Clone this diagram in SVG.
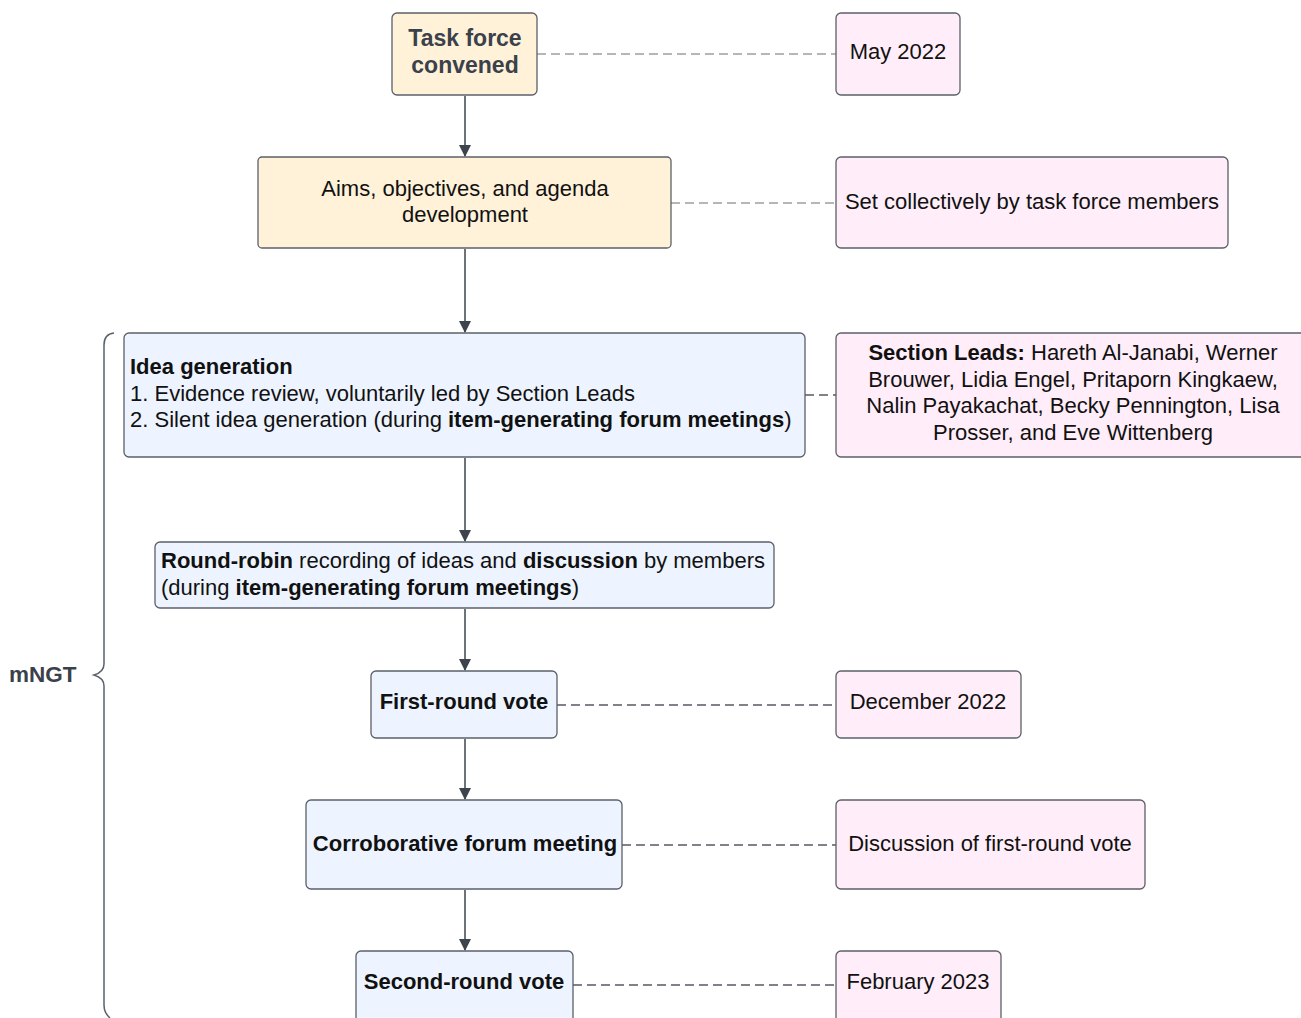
<svg xmlns="http://www.w3.org/2000/svg" width="1301" height="1018" viewBox="0 0 1301 1018">
<style>
text{font-family:"Liberation Sans",Arial,sans-serif;font-size:22px;fill:#111}
.b{font-weight:bold}
.dk{fill:#3a414a}
.c{text-anchor:middle}
.box{stroke:#5b6069;stroke-width:1.3}
.y{fill:#fff2d9}
.p{fill:#ffeef9}
.bl{fill:#edf4ff}
.flow{stroke:#3e444c;stroke-width:1.5;fill:none}
.dash{stroke:#555a62;stroke-width:1.3;stroke-dasharray:9 5;fill:none}
.dash2{stroke:#9a9ea4;stroke-width:1.3;stroke-dasharray:9 5;fill:none}
</style>
<defs>
<marker id="ah" markerWidth="12" markerHeight="14" refX="11" refY="6" orient="auto" markerUnits="userSpaceOnUse">
<path d="M0,0 L12,6 L0,12 z" fill="#3e444c"/>
</marker>
</defs>
<rect width="1301" height="1018" fill="#fff"/>
<g id="connectors">
<path class="flow" d="M465,96 V156" marker-end="url(#ah)"/>
<path class="flow" d="M465,249 V332" marker-end="url(#ah)"/>
<path class="flow" d="M465,458 V541" marker-end="url(#ah)"/>
<path class="flow" d="M465,609 V670" marker-end="url(#ah)"/>
<path class="flow" d="M465,739 V799" marker-end="url(#ah)"/>
<path class="flow" d="M465,890 V950" marker-end="url(#ah)"/>
<path class="dash2" d="M537,54 H836"/>
<path class="dash2" d="M671,203 H836"/>
<path class="dash" d="M805,395 H836"/>
<path class="dash" d="M557,705 H836"/>
<path class="dash" d="M622,845 H836"/>
<path class="dash" d="M573,985 H836"/>
</g>
<g id="brace">
<path d="M114,333 Q104,334 104,345 V664 Q104,672 94,675 Q104,678 104,686 V1005 Q104,1013 110,1018" fill="none" stroke="#5b6069" stroke-width="1.5"/>
<text x="9" y="682" class="b dk" style="font-size:22.5px">mNGT</text>
</g>
<g id="n1"><rect class="box y" x="392" y="13" width="145" height="82" rx="5"/>
<text class="b dk c" x="465" y="46" style="font-size:23px">Task force</text>
<text class="b dk c" x="465" y="73" style="font-size:23px">convened</text></g>
<g id="d1"><rect class="box p" x="836" y="13" width="124" height="82" rx="5"/>
<text class="c" x="898" y="59">May 2022</text></g>
<g id="n2"><rect class="box y" x="258" y="157" width="413" height="91" rx="4"/>
<text class="c" x="465" y="196">Aims, objectives, and agenda</text>
<text class="c" x="465" y="222">development</text></g>
<g id="d2"><rect class="box p" x="836" y="157" width="392" height="91" rx="5"/>
<text class="c" x="1032" y="209">Set collectively by task force members</text></g>
<g id="n3"><rect class="box bl" x="124" y="333" width="681" height="124" rx="5"/>
<text x="130" y="374"><tspan class="b">Idea generation</tspan></text>
<text x="130" y="401">1. Evidence review, voluntarily led by Section Leads</text>
<text x="130" y="427">2. Silent idea generation (during <tspan class="b">item-generating forum meetings</tspan>)</text></g>
<g id="d3"><rect class="box p" x="836" y="333" width="476" height="124" rx="5"/>
<text class="c" x="1073" y="360"><tspan class="b">Section Leads:</tspan> Hareth Al-Janabi, Werner</text>
<text class="c" x="1073" y="387">Brouwer, Lidia Engel, Pritaporn Kingkaew,</text>
<text class="c" x="1073" y="413">Nalin Payakachat, Becky Pennington, Lisa</text>
<text class="c" x="1073" y="440">Prosser, and Eve Wittenberg</text></g>
<g id="n4"><rect class="box bl" x="155" y="542" width="619" height="66" rx="5"/>
<text x="161" y="568"><tspan class="b">Round-robin</tspan> recording of ideas and <tspan class="b">discussion</tspan> by members</text>
<text x="161" y="595">(during <tspan class="b">item-generating forum meetings</tspan>)</text></g>
<g id="n5"><rect class="box bl" x="371" y="671" width="186" height="67" rx="5"/>
<text class="b c" x="464" y="709">First-round vote</text></g>
<g id="d5"><rect class="box p" x="836" y="671" width="185" height="67" rx="5"/>
<text class="c" x="928" y="709">December 2022</text></g>
<g id="n6"><rect class="box bl" x="306" y="800" width="316" height="89" rx="5"/>
<text class="b c" x="465" y="851">Corroborative forum meeting</text></g>
<g id="d6"><rect class="box p" x="836" y="800" width="309" height="89" rx="5"/>
<text class="c" x="990" y="851">Discussion of first-round vote</text></g>
<g id="n7"><rect class="box bl" x="356" y="951" width="217" height="80" rx="5"/>
<text class="b c" x="464" y="989">Second-round vote</text></g>
<g id="d7"><rect class="box p" x="836" y="951" width="165" height="80" rx="5"/>
<text class="c" x="918" y="989">February 2023</text></g>
</svg>
